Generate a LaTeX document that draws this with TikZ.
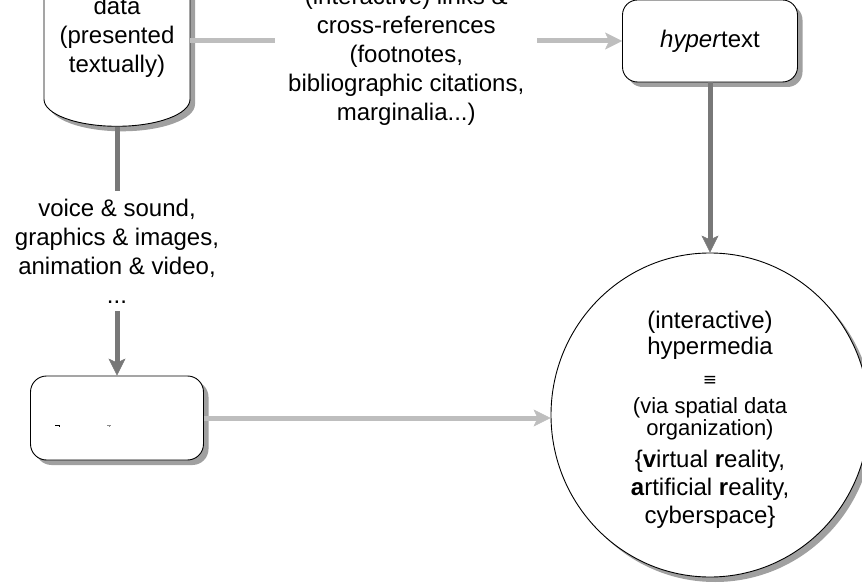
\documentclass[tikz,border=0pt]{standalone}
\usepackage{fontspec}
\setmainfont{Liberation Sans}
\newfontfamily\symfont{DejaVu Sans}
\usepackage{xcolor}
\usepackage{tikz}
\usetikzlibrary{shapes.geometric, arrows.meta, shadows}

\definecolor{linkgray}{HTML}{BEBEBE}
\definecolor{flowgray}{HTML}{787878}
\definecolor{shadegray}{HTML}{A0A0A0}

\begin{document}
\begin{tikzpicture}[x=1pt, y=-1pt,
                every node/.style={font=\fontsize{24}{29}\selectfont, align=center},
                dropped/.style={drop shadow={shadow xshift=5pt, shadow yshift=-5pt, fill=shadegray, opacity=1}},
                store/.style={cylinder, shape border rotate=90, aspect=0.47, draw, line width=0.9pt, fill=white,
                    minimum width=146pt, minimum height=206pt, inner sep=0pt, dropped},
                roundbox/.style={draw, line width=0.9pt, fill=white, rounded corners=15pt, dropped},
                bubble/.style={ellipse, draw, line width=0.9pt, fill=white, minimum width=318pt,
                    minimum height=324pt, inner sep=0pt, dropped},
                linkline/.style={draw=linkgray, line width=5pt},
                flowline/.style={draw=flowgray, line width=5pt},
                headed/.style={-{Stealth[length=17pt, width=17pt, inset=4pt, line width=0.5pt]}},
                cutlabel/.style={fill=white, inner xsep=13pt, inner ysep=8pt}]
                % page frame
                \path[use as bounding box, clip] (0,0) rectangle (862,585);

                % data store
                \node[store] (data) at (117,37) {data\\(presented\\textually)};

                % hypertext
                \node[roundbox, minimum width=175pt, minimum height=82pt] (hyper) at (710,41) {\textit{hyper}text};

                % multimedia box
                \node[roundbox, minimum width=173pt, minimum height=84pt, rounded corners=16pt] (multi) at (117,418) {};
                \draw[line width=1pt] (55,425) -- (59,425) -- (59,427);
                \draw[line width=1pt, black!45] (107,425) -- (111,425) (109,425) -- (109,427);

                % hypermedia
                \node[bubble, font=\fontsize{24}{26}\selectfont] (hm) at (710,415)
                    {\rule{0pt}{27pt}(interactive)\\hypermedia\\[5pt]{\symfont\fontsize{17}{17}\selectfont ≡}\\[2pt]
                     {\fontsize{22}{22}\selectfont (via spatial data}\\[-4pt]
                     {\fontsize{22}{22}\selectfont organization)}\\[6pt]
                     \{\textbf{v}irtual \textbf{r}eality,\\[2pt]
                     \textbf{a}rtificial \textbf{r}eality,\\[2pt]
                     cyberspace\}};

                % connectors
                \draw[linkline, headed] (data.east |- hyper) -- node[cutlabel, yshift=-15pt]
                    {(interactive) links \&\\cross-references\\(footnotes,\\bibliographic citations,\\marginalia...)} (hyper);
                \draw[flowline, headed] (data) -- node[cutlabel]
                    {voice \& sound,\\graphics \& images,\\animation \& video,\\...} (multi);
                \draw[flowline, headed] (hyper) -- (hm);
                \draw[linkline, headed] (multi) -- (multi -| hm.west);
\end{tikzpicture}
\end{document}
